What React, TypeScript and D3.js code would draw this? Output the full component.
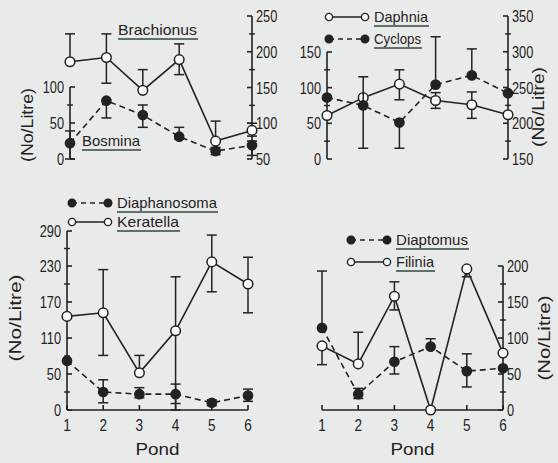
import React from "react";
import * as d3 from "d3";

// ---------- data ----------
const ponds = [1, 2, 3, 4, 5, 6];

// Panel A (top-left)
const brachionus = [186, 192, 146, 189, 75, 90];
const brachionusHi = [225, 225, 175, 211, 103, 100];
const brachionusLo = [186, 156, 146, 168, 75, 82];
const bosmina = [22, 81, 61, 31, 11, 19];
const bosminaHi = [39, 81, 75, 44, 16, 25];
const bosminaLo = [0, 57, 44, 28, 6, 5];
const aLeftTicks = [0, 50, 100];
const aLeftMinor = [25, 75];
const aRightTicks = [50, 100, 150, 200, 250];
const aRightMinor = [75, 125, 175, 225];

// Panel B (top-right)
const daphnia = [61, 86, 105, 82, 76, 62];
const daphniaHi = [61, 86, 125, 93, 94, 62];
const daphniaLo = [61, 86, 83, 71, 57, 62];
const cyclops = [236, 225, 201, 254, 267, 242];
const cyclopsHi = [236, 265, 201, 321, 304, 242];
const cyclopsLo = [236, 165, 165, 254, 267, 242];
const bLeftTicks = [0, 50, 100, 150];
const bLeftMinor = [25, 75, 125];
const bRightTicks = [150, 200, 250, 300, 350];
const bRightMinor = [175, 225, 275, 325];

// Panel C (bottom-left)
const keratella = [146, 152, 52, 122, 237, 200];
const keratellaHi = [146, 224, 81, 212, 283, 245];
const keratellaLo = [146, 81, 52, 0, 187, 152];
const diaphanosoma = [72, 25, 22, 22, 10, 20];
const diaphanosomaHi = [72, 42, 31, 36, 14, 29];
const diaphanosomaLo = [72, 10, 17, 9, 6, 12];
const cTicks = [0, 50, 110, 170, 230, 290];
const cMinor = [25, 80, 140, 200, 260];

// Panel D (bottom-right)
const diaptomus = [114, 22, 67, 88, 54, 58];
const diaptomusHi = [193, 30, 88, 99, 78, 58];
const diaptomusLo = [114, 16, 50, 88, 32, 58];
const filinia = [89, 64, 158, 0, 196, 79];
const filiniaHi = [89, 108, 178, 0, 196, 79];
const filiniaLo = [63, 64, 139, 0, 185, 79];
const dTicks = [0, 50, 100, 150, 200];
const dMinor = [25, 75, 125, 175];

// ---------- styles ----------
const INK = "#1f2322";
const UL = "#2f4a3c";
const BG = "#e9ebea";
const FONT = "'Liberation Sans', 'DejaVu Sans', sans-serif";

type Scale = (v: number) => number;

function Num({ x, y, anchor, children, size = 16 }: { x: number; y: number; anchor: "start" | "end" | "middle"; children: React.ReactNode; size?: number }) {
  return (
    <text transform={`translate(${x},${y}) scale(0.8,1)`} textAnchor={anchor} fontFamily={FONT} fontSize={size} fill={INK}>
      {children}
    </text>
  );
}

function VAxis({ x, scale, ticks, minor, side, top, bottom }: {
  x: number; scale: Scale; ticks: number[]; minor: number[]; side: "left" | "right"; top: number; bottom: number;
}) {
  const dir = side === "left" ? 1 : -1; // inward direction
  return (
    <g>
      <line x1={x} x2={x} y1={top} y2={bottom} stroke={INK} strokeWidth={1.6} />
      {ticks.map((t) => (
        <g key={"t" + t}>
          <line x1={x} x2={x + dir * 5} y1={scale(t)} y2={scale(t)} stroke={INK} strokeWidth={1.6} />
          <Num x={side === "left" ? x - 6 : x + 4} y={scale(t) + 6} anchor={side === "left" ? "end" : "start"}>
            {t}
          </Num>
        </g>
      ))}
      {minor.map((t) => (
        <line key={"m" + t} x1={x - 3} x2={x + 3} y1={scale(t)} y2={scale(t)} stroke={INK} strokeWidth={1.4} />
      ))}
    </g>
  );
}

function XAxis({ xs, y }: { xs: Scale; y: number }) {
  return (
    <g>
      <line x1={xs(1)} x2={xs(6)} y1={y} y2={y} stroke={INK} strokeWidth={1.6} />
      {ponds.map((p) => (
        <g key={p}>
          <line x1={xs(p)} x2={xs(p)} y1={y} y2={y - 5} stroke={INK} strokeWidth={1.6} />
          <Num x={xs(p)} y={y + 21} anchor="middle" size={17}>
            {p}
          </Num>
        </g>
      ))}
      <text
        x={(xs(1) + xs(6)) / 2 - 22}
        y={y + 45}
        textLength={44}
        lengthAdjust="spacingAndGlyphs"
        fontFamily={FONT}
        fontSize={17}
        fill={INK}
      >
        Pond
      </text>
    </g>
  );
}

function Series({ xs, ys, vals, hi, lo, filled, dashed }: {
  xs: Scale; ys: Scale; vals: number[]; hi: number[]; lo: number[]; filled: boolean; dashed: boolean;
}) {
  const line = d3
    .line<number>()
    .x((_, i) => xs(ponds[i]))
    .y((d) => ys(d));
  return (
    <g>
      <path d={line(vals) || ""} fill="none" stroke={INK} strokeWidth={1.6} strokeDasharray={dashed ? "6 4" : undefined} />
      {vals.map((v, i) => {
        const x = xs(ponds[i]);
        const out: React.ReactNode[] = [];
        if (hi[i] !== v || lo[i] !== v) {
          out.push(<line key="b" x1={x} x2={x} y1={ys(hi[i])} y2={ys(lo[i])} stroke={INK} strokeWidth={1.5} />);
        }
        if (hi[i] !== v) out.push(<line key="h" x1={x - 5} x2={x + 5} y1={ys(hi[i])} y2={ys(hi[i])} stroke={INK} strokeWidth={1.5} />);
        if (lo[i] !== v) out.push(<line key="l" x1={x - 5} x2={x + 5} y1={ys(lo[i])} y2={ys(lo[i])} stroke={INK} strokeWidth={1.5} />);
        return <g key={i}>{out}</g>;
      })}
      {vals.map((v, i) => (
        <circle key={"c" + i} cx={xs(ponds[i])} cy={ys(v)} r={filled ? 4.6 : 4.8} fill={filled ? INK : "#fbfcfb"} stroke={INK} strokeWidth={1.5} />
      ))}
    </g>
  );
}

function NameLabel({ x, y, name, w }: { x: number; y: number; name: string; w: number }) {
  return (
    <g>
      <text x={x} y={y} textLength={w} lengthAdjust="spacingAndGlyphs" fontFamily={FONT} fontSize={15} fill={INK}>
        {name}
      </text>
      <line x1={x} x2={x + w + 1} y1={y + 4} y2={y + 4} stroke={UL} strokeWidth={1.6} />
    </g>
  );
}

function Legend({ x, y, name, w, filled, dashed }: { x: number; y: number; name: string; w: number; filled: boolean; dashed: boolean }) {
  const x2 = x + 36;
  return (
    <g>
      <line x1={x} x2={x2} y1={y} y2={y} stroke={INK} strokeWidth={1.6} strokeDasharray={dashed ? "5 4" : undefined} />
      {[x, x2].map((cx) => (
        <circle key={cx} cx={cx} cy={y} r={filled ? 3.8 : 3.6} fill={filled ? INK : "#fbfcfb"} stroke={INK} strokeWidth={1.4} />
      ))}
      <NameLabel x={x2 + 9} y={y + 5} name={name} w={w} />
    </g>
  );
}

function YLabel({ x, y, len }: { x: number; y: number; len: number }) {
  return (
    <text
      transform={`translate(${x},${y}) rotate(-90)`}
      x={-len / 2}
      textLength={len}
      lengthAdjust="spacingAndGlyphs"
      fontFamily={FONT}
      fontSize={16}
      fill={INK}
    >
      (No/Litre)
    </text>
  );
}

export default function App() {
  // Panel A
  const axA = d3.scaleLinear().domain([1, 6]).range([70, 252]);
  const aL = d3.scaleLinear().domain([0, 100]).range([159, 87]);
  const aR = d3.scaleLinear().domain([50, 250]).range([159, 16]);
  // Panel B
  const bx = d3.scaleLinear().domain([1, 6]).range([327, 508]);
  const bL = d3.scaleLinear().domain([0, 150]).range([159, 52]);
  const bR = d3.scaleLinear().domain([150, 350]).range([159, 16]);
  // Panel C
  const cx = d3.scaleLinear().domain([1, 6]).range([67, 248]);
  const cY = d3.scaleLinear().domain(cTicks).range([410, 374, 338, 302, 266, 231]);
  // Panel D
  const dx = d3.scaleLinear().domain([1, 6]).range([322, 503]);
  const dY = d3.scaleLinear().domain([0, 200]).range([410, 266]);

  return (
    <svg width={558} height={463} style={{ position: "absolute", left: 0, top: 0 }}>
      <rect width={558} height={463} fill={BG} />

      {/* Panel A */}
      <VAxis x={axA(1)} scale={aL} ticks={aLeftTicks} minor={aLeftMinor} side="left" top={aL(100)} bottom={aL(0)} />
      <VAxis x={axA(6)} scale={aR} ticks={aRightTicks} minor={aRightMinor} side="right" top={aR(250)} bottom={aR(50)} />
      <Series xs={axA} ys={aR} vals={brachionus} hi={brachionusHi} lo={brachionusLo} filled={false} dashed={false} />
      <Series xs={axA} ys={aL} vals={bosmina} hi={bosminaHi} lo={bosminaLo} filled={true} dashed={true} />
      <NameLabel x={118} y={35} name="Brachionus" w={79} />
      <NameLabel x={82} y={146} name="Bosmina" w={58} />
      <YLabel x={33} y={125} len={74} />

      {/* Panel B */}
      <VAxis x={bx(1)} scale={bL} ticks={bLeftTicks} minor={bLeftMinor} side="left" top={bL(150)} bottom={bL(0)} />
      <VAxis x={bx(6)} scale={bR} ticks={bRightTicks} minor={bRightMinor} side="right" top={bR(350)} bottom={bR(150)} />
      <Series xs={bx} ys={bL} vals={daphnia} hi={daphniaHi} lo={daphniaLo} filled={false} dashed={false} />
      <Series xs={bx} ys={bR} vals={cyclops} hi={cyclopsHi} lo={cyclopsLo} filled={true} dashed={true} />
      <Legend x={329} y={17} name="Daphnia" w={54} filled={false} dashed={false} />
      <Legend x={329} y={39} name="Cyclops" w={47} filled={true} dashed={true} />
      <YLabel x={544} y={107} len={80} />

      {/* Panel C */}
      <VAxis x={cx(1)} scale={cY} ticks={cTicks} minor={cMinor} side="left" top={cY(290)} bottom={cY(0)} />
      <XAxis xs={cx} y={410} />
      <Series xs={cx} ys={cY} vals={keratella} hi={keratellaHi} lo={keratellaLo} filled={false} dashed={false} />
      <Series xs={cx} ys={cY} vals={diaphanosoma} hi={diaphanosomaHi} lo={diaphanosomaLo} filled={true} dashed={true} />
      <Legend x={72} y={203} name="Diaphanosoma" w={100} filled={true} dashed={true} />
      <Legend x={72} y={222} name="Keratella" w={62} filled={false} dashed={false} />
      <YLabel x={21} y={318} len={87} />

      {/* Panel D */}
      <VAxis x={dx(6)} scale={dY} ticks={dTicks} minor={dMinor} side="right" top={dY(200)} bottom={dY(0)} />
      <XAxis xs={dx} y={410} />
      <Series xs={dx} ys={dY} vals={diaptomus} hi={diaptomusHi} lo={diaptomusLo} filled={true} dashed={true} />
      <Series xs={dx} ys={dY} vals={filinia} hi={filiniaHi} lo={filiniaLo} filled={false} dashed={false} />
      <Legend x={351} y={240} name="Diaptomus" w={72} filled={true} dashed={true} />
      <Legend x={351} y={262} name="Filinia" w={38} filled={false} dashed={false} />
      <YLabel x={550} y={338} len={85} />
    </svg>
  );
}
